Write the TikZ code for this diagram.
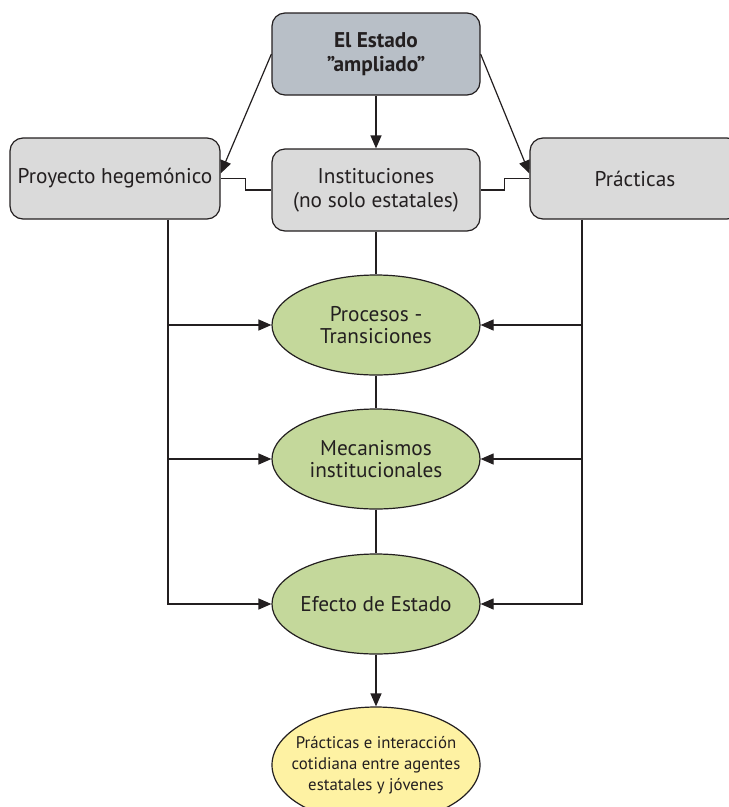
\documentclass[tikz,border=0pt]{standalone}
\usepackage{fontspec}
\setmainfont{PT Sans}
\usetikzlibrary{shapes.geometric,arrows.meta,calc}
\definecolor{topfill}{HTML}{B8BFC7}
\definecolor{boxfill}{HTML}{DADADA}
\definecolor{greenfill}{HTML}{C4D89B}
\definecolor{yellowfill}{HTML}{FEF2A3}
\definecolor{ink}{HTML}{231F20}
\tikzset{
  rbox/.style={draw=ink, line width=1.2pt, rounded corners=13pt, fill=boxfill, minimum width=208pt, minimum height=82pt, align=center, inner sep=0pt, text=ink, font=\fontsize{21.3}{24}\selectfont},
  ell/.style={ellipse, draw=ink, line width=1.2pt, fill=greenfill, minimum width=208pt, minimum height=100pt, inner sep=0pt},
  elltext/.style={align=center, inner sep=0pt, text=ink, font=\fontsize{21.3}{22.5}\selectfont},
  conn/.style={draw=ink, line width=1.2pt},
  arr/.style={conn, -{Triangle[length=13pt,width=11pt]}}
}
\begin{document}
\begin{tikzpicture}[x=1pt,y=-1pt]
\useasboundingbox (0,0) rectangle (729,807);
\clip (0,0) rectangle (729,807);
\node[rbox, fill=topfill, font=\bfseries\fontsize{21.3}{23.5}\selectfont] (top) at (376,54) {El Estado\\”ampliado”};
\node[rbox, minimum width=210pt, minimum height=81pt] (proj) at (115,178.5) {Proyecto hegemónico};
\node[rbox] (inst) at (376,190) {Instituciones\\(no solo estatales)};
\node[rbox, minimum width=210pt, minimum height=81pt] (prac) at (635,178.5) {Prácticas};
\node[ell] (e1) at (376,325) {};
\node[elltext] (t1) at (e1.center) {Procesos -\\Transiciones};
\node[ell] (e2) at (376,459) {};
\node[elltext] (t2) at (e2.center) {Mecanismos\\institucionales};
\node[ell] (e3) at (376,604) {};
\node[elltext] (t3) at (e3.center) {Efecto de Estado};
\node[ell, fill=yellowfill, minimum height=116pt] (e4) at (376,765) {};
\node[elltext, font=\fontsize{16.8}{21}\selectfont] (t4) at (e4.center) {Prácticas e interacción\\cotidiana entre agentes\\estatales y jóvenes};

\draw[arr] (top.west) -- ($(proj.east)+(0,-5)$);
\draw[arr] (top.east) -- ($(prac.west)+(0,-5)$);
\draw[arr] (top.south) -- (inst.north);
\draw[conn] (proj.east) -- ++(25,0) |- (inst.west);
\draw[conn] (inst.east) -- ++(24,0) |- (prac.west);
\draw[conn] (inst.south) -- (e1.north);
\draw[conn] (e1.south) -- (e2.north);
\draw[conn] (e2.south) -- (e3.north);
\draw[arr] (e3.south) -- (e4.north);

\coordinate (lb) at ($(proj.south)+(53,0)$);
\coordinate (rb) at ($(prac.south)+(-53,0)$);
\draw[arr] (lb) |- (e3.west);
\draw[arr] (lb |- e1.west) -- (e1.west);
\draw[arr] (lb |- e2.west) -- (e2.west);
\draw[arr] (rb) |- (e3.east);
\draw[arr] (rb |- e1.east) -- (e1.east);
\draw[arr] (rb |- e2.east) -- (e2.east);
\end{tikzpicture}
\end{document}
